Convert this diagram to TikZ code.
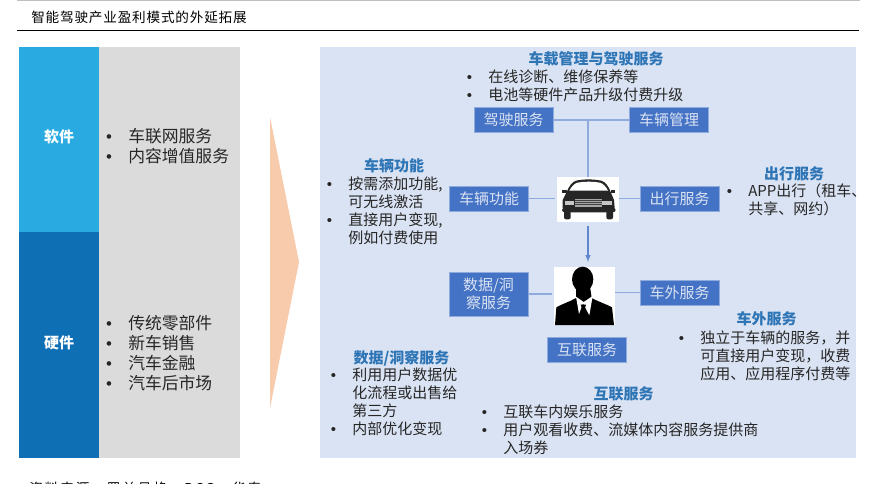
\documentclass[tikz,border=0pt]{standalone}
\usepackage{fontspec}
\usepackage{xcolor}
\usetikzlibrary{shapes,arrows}
\setmainfont{Noto Sans CJK SC}
\newfontfamily\titlecjk[LetterSpace=6]{Noto Sans CJK SC}
\newfontfamily\spacedcjk[LetterSpace=14]{Noto Sans CJK SC}
\newfontfamily\bulfont{Liberation Sans}
\definecolor{softblue}{HTML}{29ABE2}
\definecolor{hardblue}{HTML}{0F6FB5}
\definecolor{sidegray}{HTML}{DBDBDB}
\definecolor{panelblue}{HTML}{DAE3F3}
\definecolor{peach}{HTML}{F8CBAD}
\definecolor{boxblue}{HTML}{4472C4}
\definecolor{linkblue}{HTML}{8FAADC}
\definecolor{headblue}{HTML}{2E75B6}
\definecolor{bodyink}{HTML}{262626}
\newcommand{\bul}{\leavevmode\llap{{\bulfont\textbullet}\hspace{12.2pt}}}
\tikzset{
    side/.style={inner sep=0, minimum width=60pt},
    sidelabel/.style={inner sep=0, text=white, font=\fontsize{11.25}{13.5}\selectfont\bfseries},
    servicebox/.style={fill=boxblue, draw=linkblue, line width=0.4pt, inner sep=0, minimum width=59.5pt, minimum height=18.6pt, align=center, text=panelblue, font=\fontsize{11.25}{13.5}\selectfont},
    photo/.style={fill=white, inner sep=0},
    heading/.style={inner sep=0, text=headblue, font=\fontsize{11.25}{13.5}\selectfont\bfseries},
    points/.style={inner sep=0, anchor=west, align=left, text=bodyink, font=\fontsize{11.25}{13.5}\selectfont},
    bigpoints/.style={inner sep=0, anchor=west, align=left, text=bodyink, font=\fontsize{12.6}{15}\selectfont},
    link/.style={draw=linkblue, line width=0.9pt}
}
\begin{document}
\begin{tikzpicture}[x=0.75pt, y=-0.75pt]
    \useasboundingbox (0,0) rectangle (878,483);
    \clip (0,0) rectangle (878,483);

    \draw[color=gray!50, line width=1pt] (17,0.5) -- (860,0.5);
    \draw[line width=1pt] (17,30.5) -- (859,30.5);
    \node[inner sep=0, anchor=west, font=\fontsize{10.2}{12}\titlecjk] (title) at (31,17) {智能驾驶产业盈利模式的外延拓展};

    \node[fill=sidegray, inner sep=0, minimum width=106pt, minimum height=308.25pt] (sidebg) at (169.5,252.5) {};
    \node[side, fill=softblue, minimum height=138.75pt] (soft) at (59,139.5) {};
    \node[side, fill=hardblue, minimum height=169.5pt] (hard) at (59,345) {};
    \node[sidelabel] (softlabel) at (59,136.5) {软件};
    \node[sidelabel] (hardlabel) at (59,343) {硬件};
    \node[bigpoints] (softlist) at (128,146.5) {\bul 车联网服务\\\bul 内容增值服务};
    \node[bigpoints] (hardlist) at (128,353.5) {\bul 传统零部件\\\bul 新车销售\\\bul 汽车金融\\\bul 汽车后市场};

    \fill[peach] (270,117) -- (299,262) -- (270,408) -- cycle;

    \node[fill=panelblue, inner sep=0, minimum width=402pt, minimum height=308.25pt] (panel) at (588,252.5) {};

    \node[photo, minimum width=46.5pt, minimum height=33.75pt] (car) at (588,199.5) {};
    \node[photo, minimum width=45.75pt, minimum height=43.5pt] (person) at (584.5,296) {};

    \node[servicebox] (drive) at (513.5,120) {驾驶服务};
    \node[servicebox] (manage) at (669,120) {车辆管理};
    \node[servicebox] (function) at (489,198.5) {车辆功能};
    \node[servicebox] (travel) at (679.5,198.5) {出行服务};
    \node[servicebox, minimum height=33pt] (data) at (488.5,294) {数据/洞\\察服务};
    \node[servicebox] (connect) at (587,349.5) {互联服务};
    \node[servicebox] (outside) at (679.5,292.5) {车外服务};

    \coordinate (joint) at (588,120);
    \draw[link] (drive) -- (manage);
    \draw[link] (joint) -- (car.north);
    \draw[link, shorten >=1.5pt] (function) -- (car.west |- function);
    \draw[link] (car.east |- travel) -- (travel);
    \draw[link, shorten >=1.5pt] (data) -- (person.west |- data);
    \draw[link] (person.east |- outside) -- (outside);
    \draw[-latex, draw=boxblue!85!white, line width=0.8pt, shorten <=3pt, shorten >=3.5pt] (car.south -| joint) -- (person.north -| joint);

    % car
    \begin{scope}[shift={(540,170)}, x=0.25pt, y=-0.25pt]
        \fill[black!85] (80,66) .. controls (88,48) and (95,36) .. (108,32) .. controls (130,27) and (160,27) .. (184,32) .. controls (197,36) and (205,48) .. (212,66) -- (222,90) -- (224,114) -- (68,114) -- (68,90) -- cycle;
        \fill[white] (88,62) .. controls (95,50) and (102,41) .. (112,38) .. controls (135,34) and (158,34) .. (180,38) .. controls (190,41) and (198,50) .. (204,62) -- cycle;
        \fill[black!85] (67,60) rectangle (80,70);
        \fill[black!85] (212,60) rectangle (225,70);
        \fill[gray!70] (105,86) rectangle (185,111);
        \foreach \stripe in {91,97,103} {
            \fill[black!75] (105,\stripe) rectangle (185,\stripe+2);
        }
        \fill[gray!45] (74,94) rectangle (103,106);
        \fill[gray!45] (187,94) rectangle (216,106);
        \fill[black!85, rounded corners=2pt] (66,113) rectangle (227,127);
        \fill[black!85, rounded corners=1.5pt] (72,122) rectangle (92,148);
        \fill[black!85, rounded corners=1.5pt] (199,122) rectangle (219,148);
    \end{scope}

    % person
    \begin{scope}[shift={(540,170)}, x=0.25pt, y=-0.25pt]
        \fill[black] (45,465) -- (49,412) .. controls (70,400) and (90,395) .. (108,384) -- (108,350) -- (150,350) -- (155,384) .. controls (175,395) and (198,402) .. (216,412) -- (222,465) -- cycle;
        \fill[black] (128,328) ellipse [x radius=32, y radius=38];
        \fill[white] (108,380) -- (117,432) -- (129,400) -- (148,436) -- (158,378) -- (131,396) -- cycle;
        \fill[black] (122,404) -- (138,404) -- (134,418) -- (146,456) -- (132,465) -- (118,450) -- (127,418) -- cycle;
    \end{scope}

    \node[heading] (headmanage) at (596,59) {车载管理与驾驶服务};
    \node[points] (listmanage) at (488,86) {\bul 在线诊断、维修保养等\\\bul 电池等硬件产品升级付费升级};

    \node[heading] (headfunction) at (394,166) {车辆功能};
    \node[points] (listfunction) at (348,211) {\bul 按需添加功能,\\可无线激活\\\bul 直接用户变现,\\例如付费使用};

    \node[heading] (headtravel) at (794,174) {出行服务};
    \node[points] (listtravel) at (748,199.5) {\bul APP出行（租车、\\共享、网约）};

    \node[heading] (headdata) at (401.5,358) {数据/洞察服务};
    \node[points] (listdata) at (352,401.5) {\bul 利用用户数据优\\化流程或出售给\\第三方\\\bul 内部优化变现};

    \node[heading] (headconnect) at (623.5,394) {互联服务};
    \node[points] (listconnect) at (503,429.5) {\bul 互联车内娱乐服务\\\bul 用户观看收费、流媒体内容服务提供商\\入场券};

    \node[heading] (headoutside) at (766.5,319) {车外服务};
    \node[points] (listoutside) at (700,355.5) {\bul 独立于车辆的服务，并\\可直接用户变现，收费\\应用、应用程序付费等};

    \node[inner sep=0, anchor=west, font=\fontsize{10.2}{12}\spacedcjk] (source) at (29,488) {资料来源：罗兰贝格，BCG，华泰};
\end{tikzpicture}
\end{document}
